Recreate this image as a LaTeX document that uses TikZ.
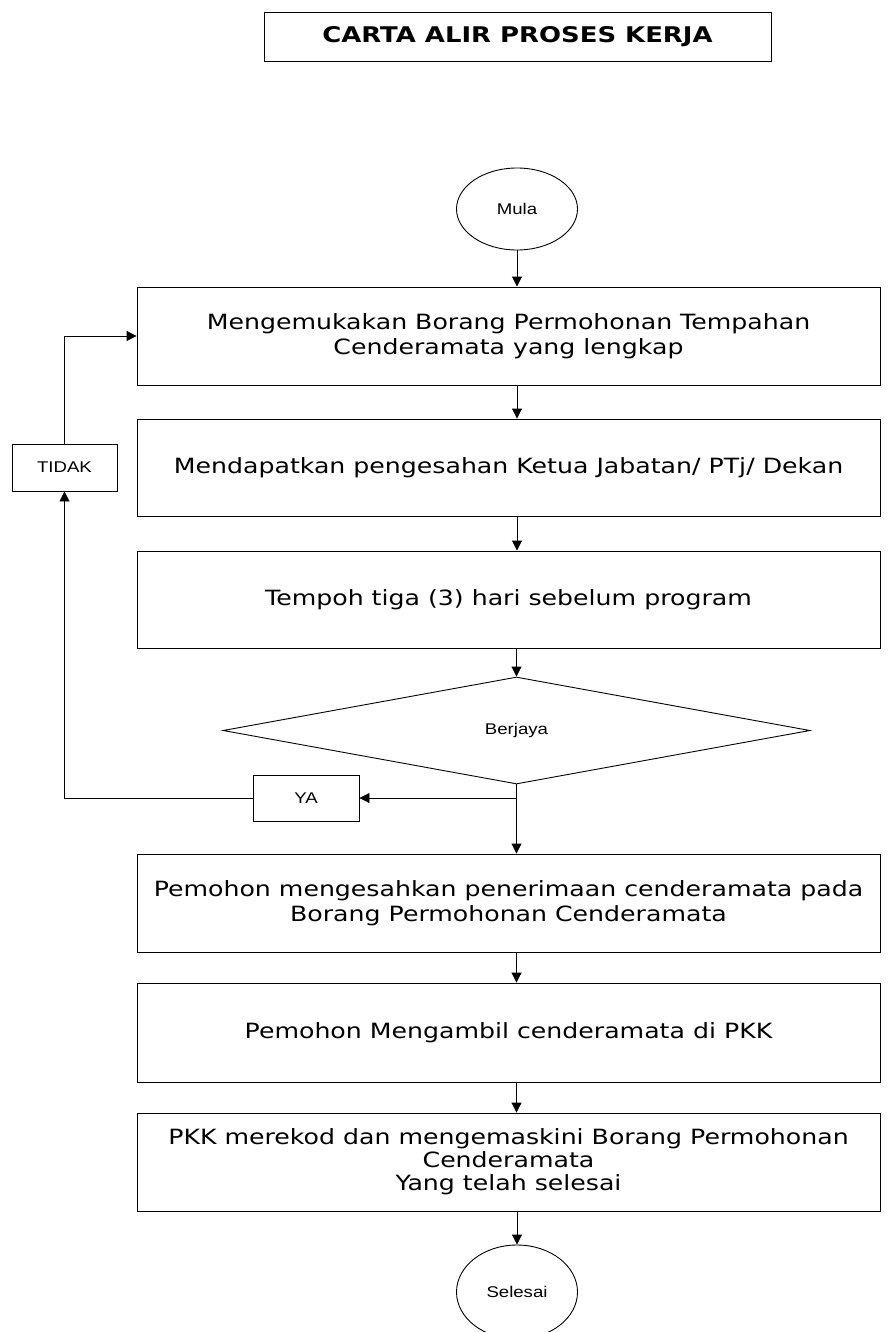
\documentclass[tikz,border=0pt]{standalone}
\usepackage{fontspec}
\usetikzlibrary{shapes.geometric,arrows.meta}
\newfontfamily\vfont[FakeStretch=1.2]{DejaVu Sans}
\newfontfamily\afont[FakeStretch=1.2]{Liberation Sans}
\begin{document}
\begin{tikzpicture}[x={(1pt,0)},y={(0,-1pt)},
  box/.style={draw, line width=0.9pt, minimum width=743pt, inner sep=0pt, align=center, font=\vfont\fontsize{21}{25.5}\selectfont},
  lbl/.style={draw, line width=0.9pt, inner sep=0pt, font=\afont\fontsize{15.5}{18}\selectfont},
  term/.style={draw, ellipse, line width=0.9pt, inner sep=0pt, minimum width=121pt, font=\afont\fontsize{15.5}{18}\selectfont},
  arr/.style={line width=0.9pt, -{Triangle[length=10pt,width=10pt]}}]
\useasboundingbox (0,0) rectangle (891,1332);
\clip (0,0) rectangle (891,1332);
\node[draw, line width=0.9pt, minimum width=507pt, minimum height=49pt, inner sep=0pt, font=\vfont\bfseries\fontsize{21.6}{25}\selectfont] (title) at (517.5,36.5) {CARTA ALIR PROSES KERJA};
\node[term, minimum height=82pt] (mula) at (517,209) {Mula};
\node[box, minimum height=98pt] (b1) at (508.5,336) {Mengemukakan Borang Permohonan Tempahan\\Cenderamata yang lengkap};
\node[box, minimum height=97pt] (b2) at (508.5,467.5) {Mendapatkan pengesahan Ketua Jabatan/ PTj/ Dekan};
\node[box, minimum height=97pt] (b3) at (508.5,599.5) {Tempoh tiga (3) hari sebelum program};
\node[draw, diamond, line width=0.9pt, minimum width=587pt, minimum height=107pt, inner sep=0pt, font=\afont\fontsize{15.5}{18}\selectfont] (dia) at (516.5,730.5) {Berjaya};
\node[lbl, minimum width=106pt, minimum height=46pt] (ya) at (306,798) {YA};
\node[lbl, minimum width=105pt, minimum height=47pt] (tidak) at (64.5,467.5) {TIDAK};
\node[box, minimum height=98pt] (b4) at (508.5,903) {Pemohon mengesahkan penerimaan cenderamata pada\\Borang Permohonan Cenderamata};
\node[box, minimum height=99pt] (b5) at (508.5,1032.5) {Pemohon Mengambil cenderamata di PKK};
\node[box, minimum height=98pt, font=\vfont\fontsize{21}{23}\selectfont] (b6) at (508.5,1162) {PKK merekod dan mengemaskini Borang Permohonan\\Cenderamata\\Yang telah selesai};
\node[term, minimum height=94pt] (sel) at (517,1292) {Selesai};
\draw[arr] (mula.south) -- (mula.south |- b1.north);
\draw[arr] (mula.south |- b1.south) -- (mula.south |- b2.north);
\draw[arr] (mula.south |- b2.south) -- (mula.south |- b3.north);
\draw[arr] (dia.north |- b3.south) -- (dia.north);
\draw[arr] (dia.south) -- (dia.south |- b4.north);
\draw[arr] (dia.south |- ya.east) -- (ya.east);
\draw[arr] (ya.west) -| (tidak.south);
\draw[arr] (tidak.north) |- (b1.west);
\draw[arr] (dia.south |- b4.south) -- (dia.south |- b5.north);
\draw[arr] (dia.south |- b5.south) -- (dia.south |- b6.north);
\draw[arr] (sel.north |- b6.south) -- (sel.north);
\end{tikzpicture}
\end{document}
